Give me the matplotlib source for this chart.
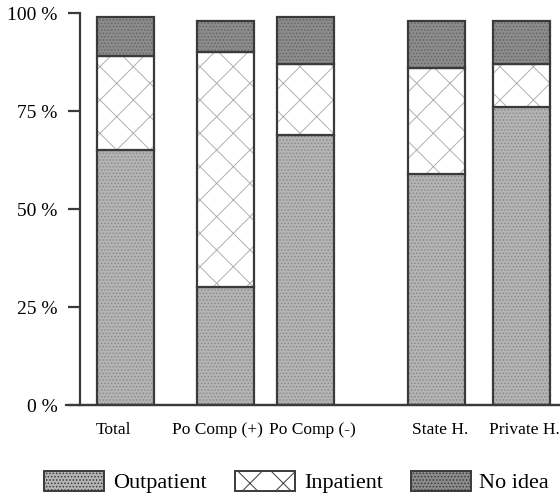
import matplotlib.pyplot as plt
import numpy as np
from matplotlib.patches import Patch

plt.rcParams['font.family'] = ['Liberation Serif', 'DejaVu Serif']
plt.rcParams['hatch.linewidth'] = 0.7

# groups and shares (%)
groups = ['Total', 'Po Comp (+)', 'Po Comp (-)', 'State H.', 'Private H.']
outpatient = [65, 30, 69, 59, 76]
inpatient = [24, 60, 18, 27, 11]
no_idea = [10, 8, 12, 12, 11]
series_names = ['Outpatient', 'Inpatient', 'No idea']

# bar centres are unevenly spaced in the original, labels sit a bit off-centre
xpos = [125, 225, 305, 436, 521]
label_pos = [113, 217, 312, 440, 524]
bar_w = 57

edge = '#3a3a3a'
styles = [
    dict(face='#b4b4b4', hatch='.....', hcol='#8a8a8a'),
    dict(face='white', hatch='x', hcol='#b0b0b0'),
    dict(face='#8c8c8c', hatch='.....', hcol='#666666'),
]

fig = plt.figure(figsize=(5.6, 4.97), dpi=100)
ax = fig.add_axes([80 / 560, 92 / 497, 480 / 560, 392 / 497])

data = np.array([outpatient, inpatient, no_idea], dtype=float)
bottom = np.zeros(len(groups))
for vals, st in zip(data, styles):
    ax.bar(xpos, vals, bar_w, bottom=bottom, color=st['face'],
           edgecolor=st['hcol'], hatch=st['hatch'], linewidth=0)
    ax.bar(xpos, vals, bar_w, bottom=bottom, fill=False,
           edgecolor=edge, linewidth=1.6)
    bottom += vals

ax.set_xlim(80, 560)
ax.set_ylim(0, 100)
ax.set_yticks([0, 25, 50, 75, 100])
ax.set_yticklabels(['0 %', '25 %', '50 %', '75 %', '100 %'], fontsize=14)
ax.set_xticks(label_pos)
ax.set_xticklabels(groups, fontsize=12.5)
ax.tick_params(axis='x', length=0, pad=12)
ax.tick_params(axis='y', length=9, width=1.6, color=edge, pad=7)
for s in ['top', 'right']:
    ax.spines[s].set_visible(False)
for s in ['left', 'bottom']:
    ax.spines[s].set_linewidth(1.6)
    ax.spines[s].set_color(edge)
ax.axhline(0, xmin=-0.03, xmax=1, color=edge, lw=1.6, clip_on=False)

handles = [Patch(facecolor=st['face'], edgecolor=edge, hatch=st['hatch'],
                 linewidth=1.4) for st in styles]
fig.legend(handles, series_names, loc='center', ncol=3,
           bbox_to_anchor=(0.53, 15 / 497), frameon=False, fontsize=16,
           handlelength=2.7, handleheight=1.0, handletextpad=0.4,
           columnspacing=1.25, borderpad=0, borderaxespad=0)

fig.savefig('out.png', dpi=100)
